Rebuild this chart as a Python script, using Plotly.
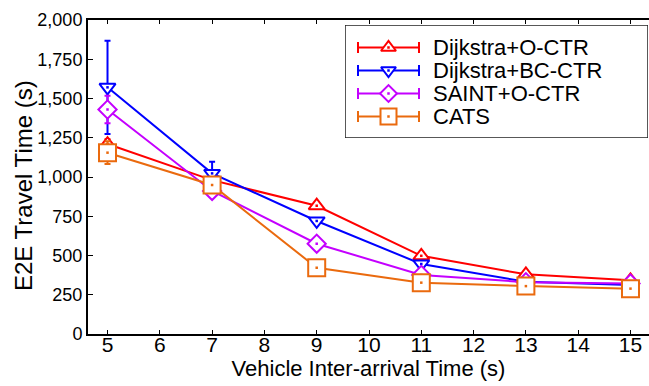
import plotly.graph_objects as go

x_vals = [5, 7, 9, 11, 13, 15]

names = ["Dijkstra+O-CTR", "Dijkstra+BC-CTR", "SAINT+O-CTR", "CATS"]
dijkstra_octr = [1210, 980, 817, 498, 380, 342]
dijkstra_bcctr = [1571, 1023, 720, 446, 333, 312]
saint_octr = [1430, 911, 575, 376, 330, 322]
cats = [1155, 949, 422, 327, 305, 289]

err_dijkstra_octr = [30, 20, 18, 12, 10, 8]
err_dijkstra_bcctr = [297, 74, 15, 10, 8, 6]
err_saint_octr = [88, 15, 12, 8, 6, 5]
err_cats = [72, 15, 10, 8, 6, 5]

colors = ["#ff0000", "#0000ff", "#c400ff", "#ea6a0e"]
symbols = ["triangle-up", "triangle-down", "diamond", "square"]
sizes = [14, 14, 14, 17]
legend_sizes = [13, 13, 13, 16]

series = [dijkstra_octr, dijkstra_bcctr, saint_octr, cats]
errors = [err_dijkstra_octr, err_dijkstra_bcctr, err_saint_octr, err_cats]

FONT = "Liberation Sans, Arial, sans-serif"
W, H = 649, 386
ML, MR, MT, MB = 88, 0, 20, 52
PW, PH = W - ML - MR, H - MT - MB

# legend box in pixel units (layout, not data)
LB_L, LB_R, LB_T, LB_B = 345, 648, 25, 138
ROW0, ROW_GAP = 47.5, 23
SAMPLE_L, SAMPLE_R, TEXT_X = 358, 419, 431

fig = go.Figure()
for name, ys, es, c, sym, sz in zip(names, series, errors, colors, symbols, sizes):
    fig.add_trace(go.Scatter(
        x=x_vals, y=ys, name=name, mode="lines+markers",
        line=dict(color=c, width=2),
        marker=dict(symbol=sym, size=sz, color="white", line=dict(color=c, width=2)),
        error_y=dict(type="data", array=es, visible=True, color=c, thickness=2, width=3),
    ))
    fig.add_trace(go.Scatter(
        x=x_vals, y=ys, mode="markers", showlegend=False, hoverinfo="skip",
        marker=dict(symbol="square", size=2.5, color=c),
    ))

# legend drawn on an overlay axis measured in pixels
fig.add_shape(type="rect", xref="x2", yref="y2",
              x0=LB_L, x1=LB_R, y0=LB_T, y1=LB_B,
              fillcolor="white", line=dict(color="#222222", width=1.5), layer="below")
for i, (name, c, sym, sz) in enumerate(zip(names, colors, symbols, legend_sizes)):
    ry = ROW0 + ROW_GAP * i
    mid = (SAMPLE_L + SAMPLE_R) / 2
    fig.add_trace(go.Scatter(
        x=[SAMPLE_L, SAMPLE_R], y=[ry, ry], xaxis="x2", yaxis="y2",
        mode="lines+markers", showlegend=False, hoverinfo="skip",
        line=dict(color=c, width=2),
        marker=dict(symbol="line-ns", size=8, color=c, line=dict(color=c, width=2)),
    ))
    fig.add_trace(go.Scatter(
        x=[mid], y=[ry], xaxis="x2", yaxis="y2",
        mode="markers", showlegend=False, hoverinfo="skip",
        marker=dict(symbol=sym, size=sz, color="white", line=dict(color=c, width=2)),
    ))
    fig.add_trace(go.Scatter(
        x=[mid], y=[ry], xaxis="x2", yaxis="y2",
        mode="markers", showlegend=False, hoverinfo="skip",
        marker=dict(symbol="square", size=2.5, color=c),
    ))
    fig.add_annotation(x=TEXT_X, y=ry, xref="x2", yref="y2", text=name,
                       showarrow=False, xanchor="left", yanchor="middle",
                       font=dict(family=FONT, size=22, color="black"))

fig.add_annotation(
    x=(23 - ML) / PW, y=(MT + PH - 186) / PH, xref="paper", yref="paper",
    text="E2E Travel Time (s)", textangle=-90, showarrow=False,
    xanchor="center", yanchor="middle", font=dict(family=FONT, size=24, color="black"))

fig.update_layout(
    width=W, height=H,
    margin=dict(l=ML, r=MR, t=MT, b=MB),
    paper_bgcolor="white", plot_bgcolor="white",
    font=dict(family=FONT, color="black"),
    showlegend=False,
    xaxis=dict(
        range=[4.627, 15.354], tickmode="array", tickvals=list(range(5, 16)),
        ticks="inside", ticklen=4, tickwidth=1, tickcolor="black",
        showline=True, linecolor="black", linewidth=2, mirror="ticks",
        showgrid=False, zeroline=False, ticklabelstandoff=-9,
        tickfont=dict(family=FONT, size=21),
        title=dict(text="Vehicle Inter-arrival Time (s)", font=dict(family=FONT, size=22), standoff=3),
    ),
    yaxis=dict(
        range=[0, 2000], tickmode="array", tickvals=list(range(0, 2001, 250)),
        tickformat=",", ticks="inside", ticklen=5, tickwidth=1, tickcolor="black",
        showline=True, linecolor="black", linewidth=2,
        showgrid=False, zeroline=False,
        tickfont=dict(family=FONT, size=18),
    ),
    xaxis2=dict(domain=[(LB_L - ML) / PW, (LB_R - ML) / PW], range=[LB_L, LB_R],
                anchor="y2", visible=False, fixedrange=True),
    yaxis2=dict(domain=[(MT + PH - LB_B) / PH, (MT + PH - LB_T) / PH], range=[LB_B, LB_T],
                anchor="x2", visible=False, fixedrange=True),
)

fig.write_html("out.html")
